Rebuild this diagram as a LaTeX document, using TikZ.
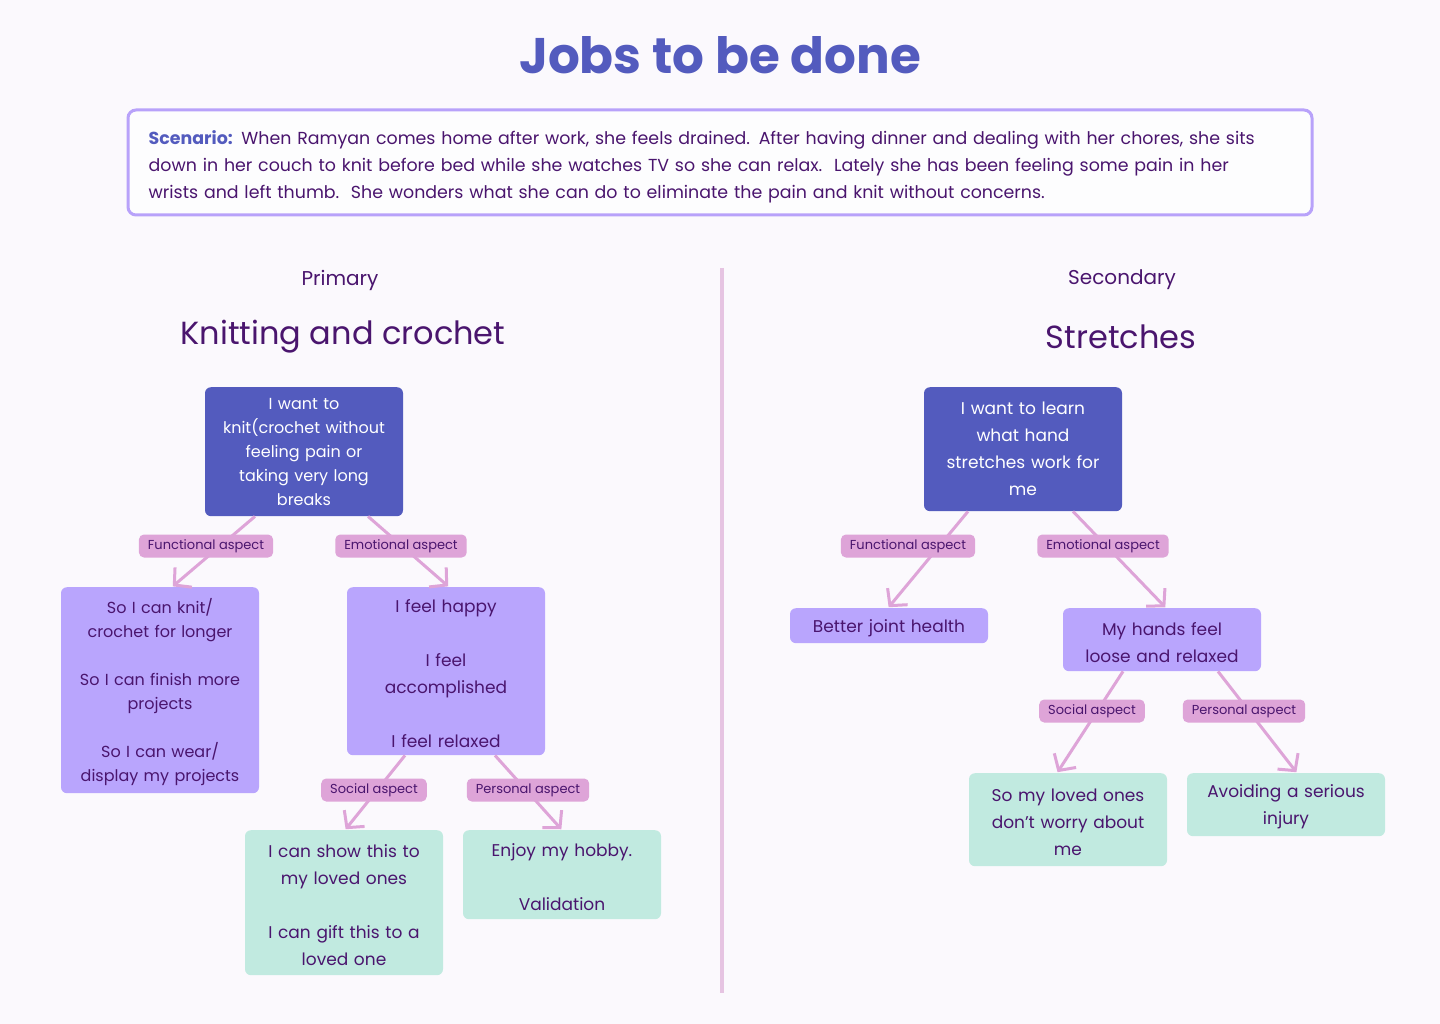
\documentclass[tikz,border=0pt]{standalone}
\usepackage{fontspec}
\setmainfont{Poppins}
\usetikzlibrary{arrows.meta, positioning, calc}

\definecolor{pagebg}{RGB}{251,249,253}
\definecolor{indigo}{RGB}{83,91,190}
\definecolor{lavender}{RGB}{185,165,253}
\definecolor{mint}{RGB}{193,234,224}
\definecolor{pill}{RGB}{222,164,216}
\definecolor{ink}{RGB}{74,21,110}
\definecolor{frame}{RGB}{184,162,250}
\definecolor{divider}{RGB}{230,196,226}

\begin{document}
\begin{tikzpicture}[
            x=1pt, y=-1pt,
            box/.style={
                    rectangle,
                    rounded corners=6pt,
                    anchor=north,
                    align=center,
                    text=ink,
                    minimum width=198pt,
                    text width=184pt,
                    inner sep=0pt,
                    font=\fontsize{17}{27}\selectfont
                },
            jobbox/.style={
                    box,
                    fill=indigo,
                    text=white
                },
            needbox/.style={
                    box,
                    fill=lavender,
                    execute at begin node={\rule{0pt}{18pt}}
                },
            gainbox/.style={
                    box,
                    fill=mint,
                    execute at begin node={\rule{0pt}{18pt}}
                },
            aspect/.style={
                    rectangle,
                    rounded corners=5pt,
                    fill=pill,
                    text=ink,
                    minimum height=23pt,
                    inner xsep=9pt,
                    inner ysep=0pt,
                    font=\fontsize{13}{15}\selectfont
                },
            heading/.style={
                    text=ink,
                    font=\fontsize{20}{24}\selectfont
                },
            topic/.style={
                    text=ink,
                    font=\fontsize{32}{36}\selectfont
                },
            line/.style={
                    draw=pill,
                    line width=3pt,
                    -{Straight Barb[length=12pt,width=26pt,line width=3pt]},
                    shorten >=1pt
                }
        ]

        \useasboundingbox[fill=pagebg] (0,0) rectangle (1440,1024);

        % Title and scenario
        \node [text=indigo, font=\fontsize{50}{54}\bfseries] (title) at (720,55) {Jobs to be done};
        \node [draw=frame, line width=3pt, rounded corners=8pt, fill=white!60!pagebg,
               minimum width=1184pt, minimum height=105pt] (scen) at (720,162.5) {};
        \node [anchor=west, text width=1142pt, align=left, text=ink, inner sep=0pt,
               font=\fontsize{17.4}{27}\selectfont] (scentext) at ([xshift=22pt,yshift=-4pt]scen.west)
            {{\color{indigo}\bfseries Scenario:} When Ramyan comes home after work, she feels drained. After having dinner and dealing with her chores, she sits\\
             down in her couch to knit before bed while she watches TV so she can relax.\ \ Lately she has been feeling some pain in her\\
             wrists and left thumb.\ \ She wonders what she can do to eliminate the pain and knit without concerns.};

        % Divider
        \draw [divider, line width=4pt] (722,268) -- (722,993);

        % Primary
        \node [heading] (prim) at (340,280) {Primary};
        \node [topic] (knit) at (343,337) {Knitting and crochet};

        \node [jobbox, minimum height=129pt, font=\fontsize{16}{24}\selectfont] (want) at (304,387)
            {I want to\\ knit(crochet without\\ feeling pain or\\ taking very long\\ breaks};
        \node [needbox, minimum height=206pt, font=\fontsize{16}{24}\selectfont] (func) at (160,587)
            {So I can knit/\\ crochet for longer\\[24pt] So I can finish more\\ projects\\[24pt] So I can wear/\\ display my projects};
        \node [needbox, minimum height=168pt] (emo) at (446,587)
            {I feel happy\\[27pt] I feel\\ accomplished\\[27pt] I feel relaxed};
        \node [gainbox, minimum height=145pt] (soc) at (344,830)
            {I can show this to\\ my loved ones\\[27pt] I can gift this to a\\ loved one};
        \node [gainbox, minimum height=89pt] (pers) at (562,830)
            {Enjoy my hobby.\\[27pt] Validation};

        \path [line] ([xshift=-49pt]want.south) -- ([xshift=12pt]func.north);
        \path [line] ([xshift=64pt]want.south) -- ([xshift=3pt]emo.north);
        \path [line] ([xshift=-41pt]emo.south) -- ([xshift=1pt]soc.north);
        \path [line] ([xshift=49pt]emo.south) -- ([xshift=0pt]pers.north);

        \node [aspect] (funclbl) at (206,546) {Functional aspect};
        \node [aspect] (emolbl) at (401,546) {Emotional aspect};
        \node [aspect] (soclbl) at (374,790) {Social aspect};
        \node [aspect] (perslbl) at (528,790) {Personal aspect};

        % Secondary
        \node [heading] (sec) at (1122,280) {Secondary};
        \node [topic] (str) at (1121,337) {Stretches};

        \node [jobbox, minimum height=124pt] (learn) at (1023,387)
            {I want to learn\\ what hand\\ stretches work for\\ me};
        \node [needbox, minimum height=35pt] (joint) at (889,608)
            {Better joint health};
        \node [needbox, minimum height=63pt] (loose) at (1162,608)
            {My hands feel\\ loose and relaxed};
        \node [gainbox, minimum height=93pt] (worry) at (1068,773)
            {So my loved ones\\ don’t worry about\\ me};
        \node [gainbox, minimum height=63pt] (injury) at (1286,773)
            {Avoiding a serious\\ injury};

        \path [line] ([xshift=-55pt]learn.south) -- ([xshift=-1pt]joint.north);
        \path [line] ([xshift=50pt]learn.south) -- ([xshift=4pt]loose.north);
        \path [line] ([xshift=-39pt]loose.south) -- ([xshift=-11pt]worry.north);
        \path [line] ([xshift=56pt]loose.south) -- ([xshift=11pt]injury.north);

        \node [aspect] (funclbl2) at (908,546) {Functional aspect};
        \node [aspect] (emolbl2) at (1103,546) {Emotional aspect};
        \node [aspect] (soclbl2) at (1092,711) {Social aspect};
        \node [aspect] (perslbl2) at (1244,711) {Personal aspect};
    \end{tikzpicture}
\end{document}
